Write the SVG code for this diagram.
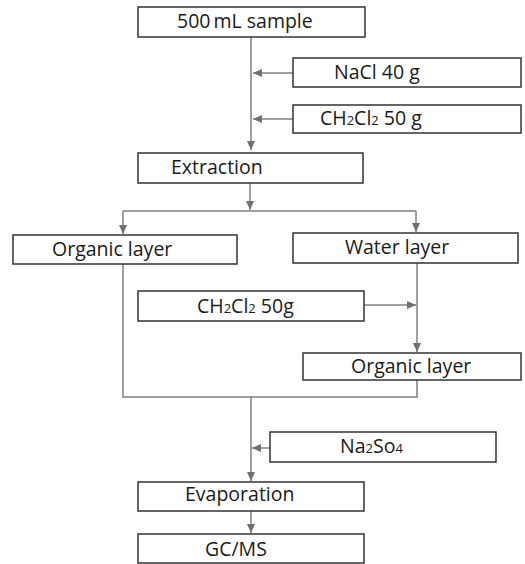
<svg xmlns="http://www.w3.org/2000/svg" width="525" height="564" viewBox="0 0 525 564">
<style>
.box{fill:#fff;stroke:#333;stroke-width:1.5}
.t{font-family:"Open Sans","Noto Sans",sans-serif;font-size:19.5px;fill:#1a1a1a}
.s{font-size:13px}
.c{fill:none;stroke:#808080;stroke-width:1.5}
</style>
<defs>
<marker id="ah" markerUnits="userSpaceOnUse" markerWidth="10" markerHeight="10" refX="9" refY="5" orient="auto">
<path d="M0,1 L9,5 L0,9 z" fill="#707070"/>
</marker>
</defs>
<rect width="525" height="564" fill="#fff"/>
<g id="connectors">
<path class="c" d="M251,37 V150" marker-end="url(#ah)"/>
<path class="c" d="M293,73 H253" marker-end="url(#ah)"/>
<path class="c" d="M293,119 H253" marker-end="url(#ah)"/>
<path class="c" d="M250,183 V210" marker-end="url(#ah)"/>
<path class="c" d="M123,211 H416"/>
<path class="c" d="M123,211 V234" marker-end="url(#ah)"/>
<path class="c" d="M416,211 V232" marker-end="url(#ah)"/>
<path class="c" d="M417,263 V352" marker-end="url(#ah)"/>
<path class="c" d="M364,305 H416" marker-end="url(#ah)"/>
<path class="c" d="M123,264 V397 H417 V380"/>
<path class="c" d="M251,397 V481" marker-end="url(#ah)"/>
<path class="c" d="M270,448 H252" marker-end="url(#ah)"/>
<path class="c" d="M251,511 V533" marker-end="url(#ah)"/>
</g>
<g id="sample"><rect class="box" x="138" y="7" width="227" height="30"/><text class="t" x="177" y="28">500<tspan dx="3">mL sample</tspan></text></g>
<g id="nacl"><rect class="box" x="293" y="58" width="228" height="29"/><text class="t" x="334" y="79">NaCl 40 g</text></g>
<g id="ch2cl2a"><rect class="box" x="293" y="105" width="228" height="28"/><text class="t" x="320" y="125">CH<tspan class="s">2</tspan>Cl<tspan class="s">2</tspan> 50 g</text></g>
<g id="extraction"><rect class="box" x="138" y="153" width="225" height="30"/><text class="t" x="171" y="174">Extraction</text></g>
<g id="organic1"><rect class="box" x="13" y="235" width="224" height="29"/><text class="t" x="52" y="256">Organic layer</text></g>
<g id="water"><rect class="box" x="293" y="233" width="225" height="30"/><text class="t" x="345" y="254">Water layer</text></g>
<g id="ch2cl2b"><rect class="box" x="138" y="291" width="226" height="30"/><text class="t" x="197" y="313">CH<tspan class="s">2</tspan>Cl<tspan class="s">2</tspan> 50g</text></g>
<g id="organic2"><rect class="box" x="303" y="353" width="218" height="27"/><text class="t" x="351" y="373">Organic layer</text></g>
<g id="na2so4"><rect class="box" x="270" y="432" width="226" height="30"/><text class="t" x="340" y="453">Na<tspan class="s">2</tspan>So<tspan class="s">4</tspan></text></g>
<g id="evaporation"><rect class="box" x="138" y="482" width="226" height="29"/><text class="t" x="185" y="501">Evaporation</text></g>
<g id="gcms"><rect class="box" x="138" y="534" width="226" height="29"/><text class="t" x="205" y="556">GC/MS</text></g>
</svg>
